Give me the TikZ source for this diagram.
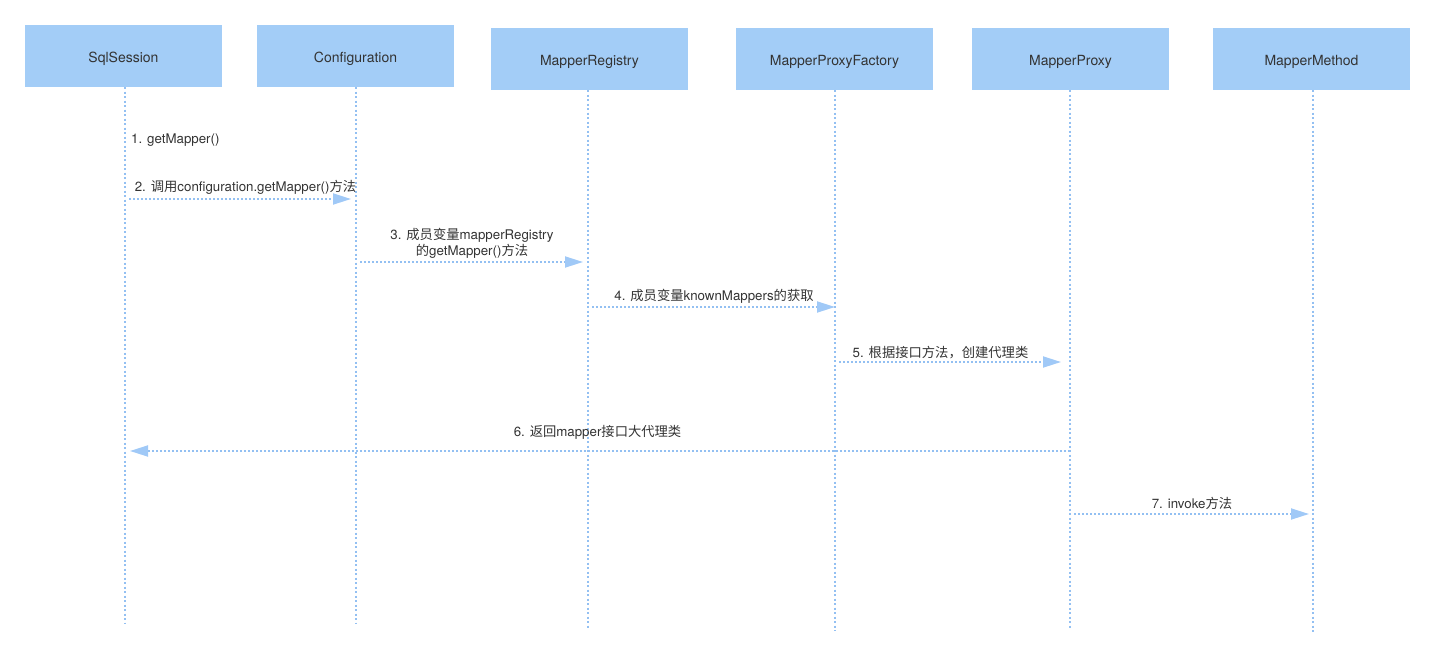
\documentclass[tikz,border=0pt]{standalone}
\usepackage{fontspec}
\setmainfont{TeX Gyre Heros}
\newfontfamily\cjk{Noto Sans CJK SC}
\usetikzlibrary{positioning, arrows.meta, calc}
\definecolor{boxblue}{HTML}{A3CDF7}
\definecolor{lineblue}{HTML}{93C0F2}
\definecolor{tipblue}{HTML}{A0C9F7}
\definecolor{txtgray}{HTML}{333333}
\begin{document}
\begin{tikzpicture}[
    x=1pt, y=-1pt,
    actor/.style={rectangle, fill=boxblue, minimum width=197pt, minimum height=62pt, inner sep=0pt, text height=12pt, text depth=0pt, text=txtgray, font=\fontsize{14}{17}\selectfont},
    life/.style={draw=lineblue, line width=1.4pt, dash pattern=on 2pt off 2.5pt},
    msg/.style={draw=lineblue, line width=1.8pt, dash pattern=on 2pt off 2pt, shorten <=4pt, shorten >=5pt, -{Triangle[length=18pt, width=11pt, fill=tipblue, color=tipblue]}},
    lbl/.style={text=txtgray, font=\fontsize{13.3}{16}\selectfont, inner sep=2pt, align=center},
]
\useasboundingbox (0,0) rectangle (1436,656);
% participants
\node[actor] (sess)  at (123.5,56)  {SqlSession};
\node[actor] (conf)  at (355.5,56)  {Configuration};
\node[actor] (reg)   at (589.5,59)  {MapperRegistry};
\node[actor] (fact)  at (834.5,59)  {MapperProxyFactory};
\node[actor] (proxy) at (1070.5,59) {MapperProxy};
\node[actor] (meth)  at (1311.5,59) {MapperMethod};
% lifelines
\coordinate (sess-end)  at (125,623);
\coordinate (conf-end)  at (356,624);
\coordinate (reg-end)   at (588,629);
\coordinate (fact-end)  at (835,631);
\coordinate (proxy-end) at (1070,628);
\coordinate (meth-end)  at (1313,632);
\draw[life] (sess.south -| sess-end) -- (sess-end);
\draw[life] (conf.south -| conf-end) -- (conf-end);
\draw[life] (reg.south -| reg-end) -- (reg-end);
\draw[life] (fact.south -| fact-end) -- (fact-end);
\draw[life] (proxy.south -| proxy-end) -- (proxy-end);
\draw[life] (meth.south -| meth-end) -- (meth-end);
% messages
\node[lbl, anchor=west] (m1) at (129,140) {1. getMapper()};
\coordinate (m2a) at (125,199);
\coordinate (m2b) at (356,199);
\coordinate (m3a) at (356,262);
\coordinate (m3b) at (588,262);
\coordinate (m4a) at (588,307);
\coordinate (m4b) at (840,307);
\coordinate (m5a) at (835,362);
\coordinate (m5b) at (1066,362);
\coordinate (m6a) at (1070,451);
\coordinate (m6b) at (125,451);
\coordinate (m7a) at (1070,514);
\coordinate (m7b) at (1314,514);
\draw[msg] (m2a) -- node[lbl, above=2pt, xshift=5pt] {2. {\cjk 调用}configuration.getMapper(){\cjk 方法}} (m2b);
\draw[msg] (m3a) -- node[lbl, above=1pt] {3. {\cjk 成员变量}mapperRegistry\\{\cjk 的}getMapper(){\cjk 方法}} (m3b);
\draw[msg] (m4a) -- node[lbl, above=1pt] {4. {\cjk 成员变量}knownMappers{\cjk 的获取}} (m4b);
\draw[msg] (m5a) -- node[lbl, above=0pt, xshift=-10pt] {5. {\cjk 根据接口方法，创建代理类}} (m5b);
\draw[msg, shorten <=0pt] (m6a) -- node[lbl, above=9pt] {6. {\cjk 返回}mapper{\cjk 接口大代理类}} (m6b);
\draw[msg] (m7a) -- node[lbl, above=2pt] {7. invoke{\cjk 方法}} (m7b);
\end{tikzpicture}
\end{document}
